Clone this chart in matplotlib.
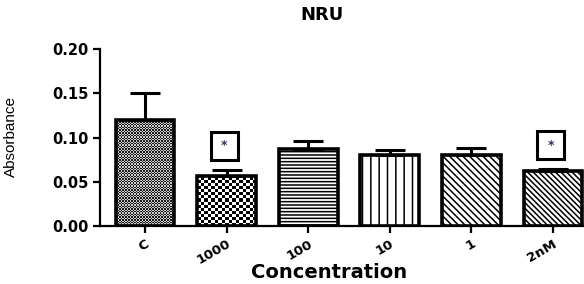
import numpy as np
import matplotlib
matplotlib.use('Agg')
import matplotlib.pyplot as plt
from matplotlib.patches import Rectangle

# --- data ---
categories = ['C', '1000', '100', '10', '1', '2nM']
means = [0.120, 0.0565, 0.0867, 0.080, 0.080, 0.0625]
errors = [0.030, 0.0065, 0.0095, 0.006, 0.008, 0.0015]
significant = [False, True, False, False, False, True]

# fill style per bar: ('check', cell_w_px, cell_h_px) or ('hatch', pattern)
fills = [('check', 1.5, 1.35), ('check', 3.5, 3.0), ('hatch', '-----'),
         ('hatch', '||'), ('hatch', '\\\\\\\\\\'), ('hatch', '\\\\\\\\\\\\')]

plt.rcParams['hatch.linewidth'] = 1.1
W, H, DPI = 5.84, 2.84, 100
fig = plt.figure(figsize=(W, H), dpi=DPI)
ax = fig.add_axes([100 / 584, 1 - 226 / 284, 484 / 584, 177 / 284])

x = np.arange(len(categories))
bar_w = 0.72
ax.set_xlim(-0.55, 5.38)
ax.set_ylim(0, 0.20)

bars = ax.bar(x, means, width=bar_w, facecolor='white', edgecolor='black',
              linewidth=2.6, zorder=3)

# px per data unit (for checker cell sizing)
px_x = 484 / (5.38 + 0.55)
px_y = 177 / 0.20

for i, (b, f) in enumerate(zip(bars, fills)):
    if f[0] == 'hatch':
        b.set_hatch(f[1])
    else:
        b.set_facecolor('none')
        x0, w, h = b.get_x(), b.get_width(), b.get_height()
        nx = int(np.ceil(w * px_x / f[1]))
        ny = int(np.ceil(h * px_y / f[2]))
        checker = (np.add.outer(np.arange(ny), np.arange(nx)) % 2).astype(float)
        lo = 0.1 if i == 0 else 0.0
        hi = 0.8 if i == 0 else 1.0
        checker = lo + (hi - lo) * checker
        im = ax.imshow(checker, cmap='gray', vmin=0, vmax=1, interpolation='nearest',
                       extent=(x0, x0 + nx * f[1] / px_x, 0, ny * f[2] / px_y),
                       aspect='auto', origin='lower', zorder=2)
        im.set_clip_path(b)

# upper error bars only
ax.errorbar(x, means, yerr=[np.zeros(len(means)), errors], fmt='none',
            ecolor='black', elinewidth=2.2, capsize=10.5, capthick=2.2, zorder=4)

# significance boxes
for i, (m, e, s) in enumerate(zip(means, errors, significant)):
    if not s:
        continue
    y0 = m + e + 0.012
    bw, bh = 0.33, 0.031
    ax.add_patch(Rectangle((i - 0.03 - bw / 2, y0), bw, bh, facecolor='white',
                           edgecolor='black', linewidth=2.2, zorder=5))
    ax.text(i - 0.03, y0 + bh / 2, '*', ha='center', va='center', fontsize=9,
            color='#333355', fontweight='bold', zorder=6)

ax.set_xticks(x)
ax.set_xticklabels(categories, rotation=30, ha='right', rotation_mode='anchor',
                   fontsize=9.5, fontweight='bold')
ax.set_yticks([0.0, 0.05, 0.10, 0.15, 0.20])
ax.set_yticklabels(['0.00', '0.05', '0.10', '0.15', '0.20'], fontsize=10.5,
                   fontweight='bold')
ax.tick_params(axis='both', direction='out', length=5, width=1.6, colors='black')
ax.tick_params(axis='x', pad=3)

for side in ['top', 'right']:
    ax.spines[side].set_visible(False)
for side in ['left', 'bottom']:
    ax.spines[side].set_linewidth(1.6)

ax.set_ylabel('Absorbance', fontsize=11,
              family=['Liberation Sans Narrow', 'Liberation Sans', 'DejaVu Sans'])
ax.yaxis.set_label_coords(-0.169, 0.508)
ax.set_xlabel('Concentration', fontsize=14, fontweight='bold')
ax.xaxis.set_label_coords(0.473, -0.265)
ax.xaxis.label.set_va('center')

fig.text(322 / 584, 1 - 15 / 284, 'NRU', ha='center', va='center', fontsize=13,
         fontweight='bold')

fig.savefig('out.png', dpi=DPI)
